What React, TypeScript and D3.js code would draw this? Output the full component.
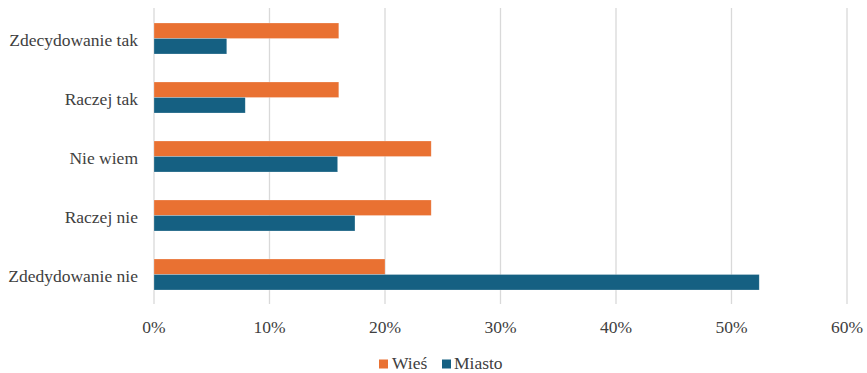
import React from "react";
import * as d3 from "d3";

const categories = ["Zdecydowanie tak", "Raczej tak", "Nie wiem", "Raczej nie", "Zdedydowanie nie"];
const wiesValues = [16, 16, 24, 24, 20];
const miastoValues = [6.3, 7.9, 15.9, 17.4, 52.4];
const seriesNames = ["Wieś", "Miasto"];
const xTicks = [0, 10, 20, 30, 40, 50, 60];

const W = 867;
const H = 373;
const left = 154;
const right = 847;
const top = 9;
const bottom = 304;
const colors = ["#E97132", "#156082"];
const font = "Liberation Serif";

export default function App() {
  const x = d3.scaleLinear().domain([0, 60]).range([left, right]);
  const y = d3.scaleBand<string>().domain(categories).range([top, bottom]).paddingInner(28 / 59).paddingOuter(14 / 59);
  const inner = d3.scaleBand<string>().domain(seriesNames).range([0, y.bandwidth()]);
  const series = [wiesValues, miastoValues];
  const ts = { fontFamily: font, fontSize: "17.5px" };

  return (
    <svg width={W} height={H} style={{ position: "absolute", left: 0, top: 0, background: "#fff" }}>
      {xTicks.map((t) => (
        <line key={t} x1={x(t)} x2={x(t)} y1={top - 1} y2={bottom} stroke="#D9D9D9" strokeWidth={1.3} />
      ))}
      {categories.map((c, i) =>
        series.map((vals, s) => (
          <rect
            key={c + s}
            x={x(0)}
            y={(y(c) as number) + (inner(seriesNames[s]) as number)}
            width={x(vals[i]) - x(0)}
            height={inner.bandwidth()}
            fill={colors[s]}
            stroke="#fff"
            strokeOpacity={0.4}
            strokeWidth={0.6}
          />
        ))
      )}
      {categories.map((c) => (
        <text
          key={c}
          x={left - 16}
          y={(y(c) as number) + y.bandwidth() / 2 + 1}
          textAnchor="end"
          dominantBaseline="central"
          style={ts}
          fill="#404040"
        >
          {c}
        </text>
      ))}
      {xTicks.map((t) => (
        <text key={t} x={x(t)} y={333} textAnchor="middle" style={ts} fill="#404040">
          {t}%
        </text>
      ))}
      <g style={ts} fill="#404040">
        <rect x={379} y={359.5} width={9} height={9} fill={colors[0]} />
        <text x={392} y={369}>{seriesNames[0]}</text>
        <rect x={442} y={359.5} width={9} height={9} fill={colors[1]} />
        <text x={454} y={369}>{seriesNames[1]}</text>
      </g>
    </svg>
  );
}
